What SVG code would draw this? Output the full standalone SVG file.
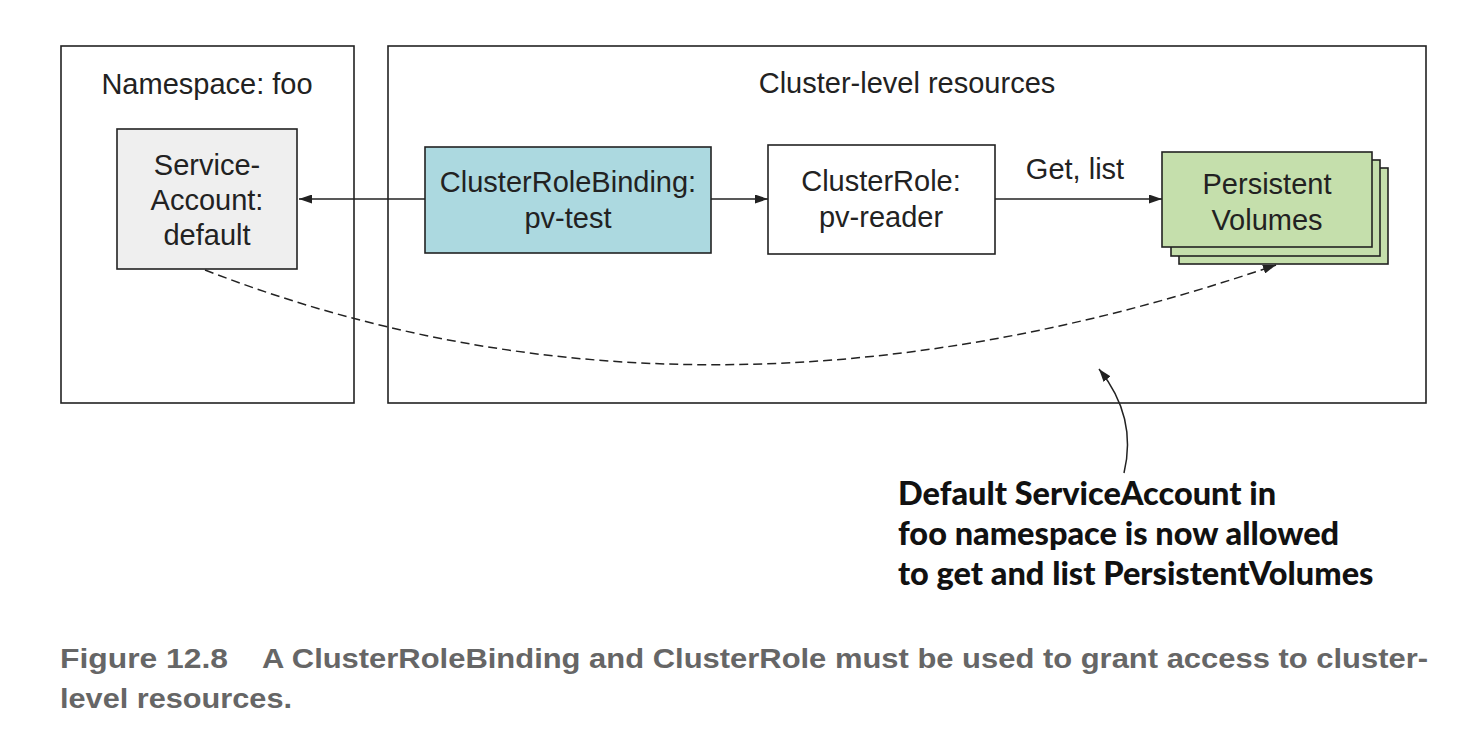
<svg xmlns="http://www.w3.org/2000/svg" width="1484" height="736" viewBox="0 0 1484 736">
<defs>
<style>
.box{stroke:#222;stroke-width:1.6}
.lbl{font-family:"Liberation Sans",Arial,sans-serif;font-size:29px;fill:#222;text-anchor:middle}
.note{font-family:Lato,"Liberation Sans",sans-serif;font-weight:900;font-size:32.5px;fill:#111}
.cap{font-family:"Liberation Sans",Arial,sans-serif;font-weight:bold;font-size:28px;fill:#666}
.conn{fill:none;stroke:#222;stroke-width:1.5}
</style>
<marker id="ah" viewBox="0 0 13 9" refX="13" refY="4.5" markerWidth="13" markerHeight="9" markerUnits="userSpaceOnUse" orient="auto">
<path d="M0,0 L13,4.5 L0,9 Z" fill="#222"/>
</marker>
</defs>
<rect width="1484" height="736" fill="#fff"/>
<g id="namespace-foo">
<rect class="box" x="61" y="46" width="293" height="357" fill="#fff"/>
<text class="lbl" x="207" y="94">Namespace: foo</text>
</g>
<g id="cluster-level">
<rect class="box" x="388" y="46" width="1038" height="357" fill="#fff"/>
<text class="lbl" x="907" y="93">Cluster-level resources</text>
</g>
<g id="serviceaccount">
<rect class="box" x="117" y="129" width="180" height="140" fill="#efefef"/>
<text class="lbl" x="207" y="175">Service-</text>
<text class="lbl" x="207" y="210">Account:</text>
<text class="lbl" x="207" y="245">default</text>
</g>
<g id="clusterrolebinding">
<rect class="box" x="425" y="147" width="286" height="106" fill="#acd9e0"/>
<text class="lbl" x="568" y="192">ClusterRoleBinding:</text>
<text class="lbl" x="568" y="228">pv-test</text>
</g>
<g id="clusterrole">
<rect class="box" x="768" y="145" width="227" height="109" fill="#fff"/>
<text class="lbl" x="881" y="191">ClusterRole:</text>
<text class="lbl" x="881" y="227">pv-reader</text>
</g>
<g id="persistentvolumes">
<rect class="box" x="1179" y="168" width="209" height="96" fill="#c5dfac"/>
<rect class="box" x="1171" y="160" width="209" height="96" fill="#c5dfac"/>
<rect class="box" x="1162" y="152" width="210" height="95" fill="#c5dfac"/>
<text class="lbl" x="1267" y="194">Persistent</text>
<text class="lbl" x="1267" y="230">Volumes</text>
</g>
<g id="connectors">
<line class="conn" x1="425" y1="199" x2="299" y2="199" marker-end="url(#ah)"/>
<line class="conn" x1="711" y1="199" x2="768" y2="199" marker-end="url(#ah)"/>
<line class="conn" x1="995" y1="199" x2="1162" y2="199" marker-end="url(#ah)"/>
<text class="lbl" x="1075" y="179">Get, list</text>
<path class="conn" d="M205,270 Q700,462 1276,265" stroke-dasharray="9,5" marker-end="url(#ah)"/>
<path class="conn" d="M1124,473 C1132,440 1128,405 1099,369" marker-end="url(#ah)"/>
</g>
<g id="note">
<text class="note" x="898" y="505">Default ServiceAccount in</text>
<text class="note" x="898" y="545">foo namespace is now allowed</text>
<text class="note" x="898" y="585">to get and list PersistentVolumes</text>
</g>
<g id="caption">
<text class="cap" x="60" y="668" textLength="168" lengthAdjust="spacingAndGlyphs">Figure 12.8</text>
<text class="cap" x="262" y="668" textLength="1166" lengthAdjust="spacingAndGlyphs">A ClusterRoleBinding and ClusterRole must be used to grant access to cluster-</text>
<text class="cap" x="60" y="708" textLength="232" lengthAdjust="spacingAndGlyphs">level resources.</text>
</g>
</svg>
